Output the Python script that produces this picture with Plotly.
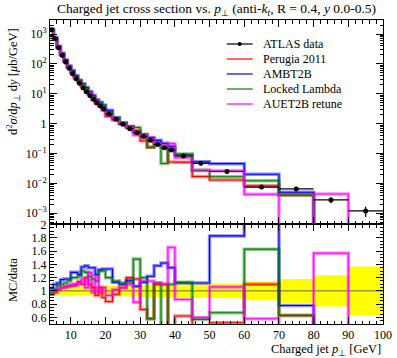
import plotly.graph_objects as go

# ---------------- data ----------------
edges = [4, 5, 6, 7, 8, 9, 10, 11, 12, 13, 14, 15, 16, 17, 18, 19, 20,
         22, 24, 26, 28, 30, 32, 34, 36, 38, 40, 45, 50, 60, 70, 80, 90, 100]

atlas_data = [1400, 700, 350, 195, 115, 72, 47, 32, 22.5, 16, 11.8, 8.8, 6.6,
              5.0, 3.9, 3.1, 2.1, 1.4, 0.95, 0.68, 0.5, 0.37, 0.28, 0.2, 0.155,
              0.13, 0.083, 0.047, 0.025, 0.0075, 0.0065, 0.0028, 0.0012]

data_relerr = [0.06, 0.06, 0.06, 0.06, 0.06, 0.06, 0.065, 0.065, 0.065, 0.07,
               0.07, 0.07, 0.07, 0.07, 0.075, 0.075, 0.08, 0.08, 0.08, 0.085,
               0.085, 0.09, 0.09, 0.09, 0.095, 0.095, 0.10, 0.10, 0.11, 0.14,
               0.18, 0.235, 0.37]

# MC / data ratios per bin (0 = empty bin)
perugia2011 = [0.95, 0.98, 1.02, 1.05, 1.06, 1.07, 1.08, 1.10, 1.14, 1.10, 1.20,
               1.10, 1.05, 0.93, 1.05, 0.90, 0.84, 0.95, 1.05, 1.20, 1.18, 0.72,
               0.58, 1.10, 1.10, 0.40, 0.62, 0.36, 0.52, 1.10, 0.63, 0, 0]
ambt2b = [1.04, 1.10, 1.12, 1.17, 1.18, 1.18, 1.28, 1.28, 1.25, 1.36, 1.38,
          1.35, 1.35, 1.25, 1.32, 1.33, 1.33, 1.13, 1.10, 1.16, 1.07, 1.13,
          1.22, 1.38, 1.42, 1.35, 1.12, 1.12, 1.83, 2.7, 0.78, 0, 0]
locked_lambda = [0.97, 1.02, 1.08, 1.10, 1.12, 1.15, 1.20, 1.20, 1.22, 1.30,
                 1.28, 1.22, 1.18, 1.15, 1.30, 1.30, 1.20, 1.15, 1.12, 1.13,
                 1.48, 1.20, 0.58, 1.12, 0.30, 1.10, 1.13, 0.57, 0.67, 1.63,
                 0.63, 0, 0]
auet2b = [0.95, 1.00, 1.03, 1.05, 1.06, 1.08, 1.10, 1.08, 1.12, 1.18, 1.05,
          1.28, 0.98, 1.22, 0.98, 1.05, 0.93, 1.02, 1.05, 1.10, 0.83, 1.15,
          1.15, 1.12, 1.10, 1.66, 0.87, 0.60, 1.06, 0.58, 0, 1.57, 0]

ratio_ticks = [0.6, 0.8, 1, 1.2, 1.4, 1.6, 1.8, 2]
ratio_ticktext = ["0.6", "0.8", "1", "1.2", "1.4", "1.6", "1.8", "2"]

series = [
    ("Perugia 2011", perugia2011, "#ff0000", "rgba(255,0,0,0.45)"),
    ("AMBT2B", ambt2b, "#0000ff", "rgba(0,0,255,0.45)"),
    ("Locked Lambda", locked_lambda, "#008000", "rgba(0,128,0,0.45)"),
    ("AUET2B retune", auet2b, "#ff00ff", "rgba(255,0,255,0.45)"),
]

FONT = "Liberation Serif"

centers = [(a + b) / 2 for a, b in zip(edges[:-1], edges[1:])]
halfw = [(b - a) / 2 for a, b in zip(edges[:-1], edges[1:])]


def step_y(vals):
    return list(vals) + [vals[-1]]


fig = go.Figure()

# ---------- ratio panel ----------
band_x, band_y = [], []
for i in range(len(centers)):
    band_x += [edges[i], edges[i + 1]]
    band_y += [1 + data_relerr[i]] * 2
for i in reversed(range(len(centers))):
    band_x += [edges[i + 1], edges[i]]
    band_y += [1 - data_relerr[i]] * 2
fig.add_trace(go.Scatter(x=band_x, y=band_y, fill="toself", fillcolor="#ffff00",
                         line=dict(width=0), mode="lines", showlegend=False,
                         hoverinfo="skip", xaxis="x", yaxis="y"))
fig.add_trace(go.Scatter(x=[edges[0], edges[-1]], y=[1, 1], mode="lines",
                         line=dict(color="#666666", width=1), showlegend=False,
                         xaxis="x", yaxis="y"))

for name, ratio, col, pale in series:
    fig.add_trace(go.Scatter(x=edges, y=step_y(ratio), mode="lines",
                             line=dict(color=pale, width=3.5, shape="hv"),
                             showlegend=False, xaxis="x", yaxis="y"))
for name, ratio, col, pale in series:
    fig.add_trace(go.Scatter(x=edges, y=step_y(ratio), mode="lines",
                             line=dict(color=col, width=1.1, shape="hv"),
                             showlegend=False, xaxis="x", yaxis="y"))

# ---------- main panel ----------
for name, ratio, col, pale in series:
    mc = [d * r if r > 0 else 1e-9 for d, r in zip(atlas_data, ratio)]
    fig.add_trace(go.Scatter(x=edges, y=step_y(mc), mode="lines",
                             line=dict(color=pale, width=3.5, shape="hv"),
                             showlegend=False, xaxis="x2", yaxis="y2"))
for name, ratio, col, pale in series:
    mc = [d * r if r > 0 else 1e-9 for d, r in zip(atlas_data, ratio)]
    fig.add_trace(go.Scatter(x=edges, y=step_y(mc), mode="lines",
                             line=dict(color=col, width=1.1, shape="hv"),
                             showlegend=False, xaxis="x2", yaxis="y2"))

fig.add_trace(go.Scatter(
    x=centers, y=atlas_data, mode="markers",
    marker=dict(color="black", size=5, symbol="circle"),
    error_x=dict(type="data", array=halfw, width=0, thickness=1.2, color="black"),
    error_y=dict(type="data", array=[d * e for d, e in zip(atlas_data, data_relerr)],
                 width=0, thickness=1.2, color="black"),
    showlegend=False, xaxis="x2", yaxis="y2"))

# ---------- layout ----------
OFF = 0   # body margin removed by post_script below
WIN_W, WIN_H = 397, 358
W, H = WIN_W - OFF, WIN_H - OFF
FR_L, FR_R, FR_T, FR_B = 50, 383.5, 20, 324   # frame in window pixels
L = FR_L - OFF
T = FR_T - OFF
R = W - (FR_R - OFF)
B = H - (FR_B - OFF)
PW, PH = W - L - R, H - T - B
split = 100 / PH


def px(xw):
    return (xw - OFF - L) / PW


def py(yw):
    return (H - B - (yw - OFF)) / PH


minor_log = [k * 10 ** e for e in range(-4, 4) for k in range(2, 10)
             if 10 ** -3.36 < k * 10 ** e < 10 ** 3.47]

axis_common = dict(showline=True, linecolor="black", linewidth=1, mirror="allticks",
                   ticks="inside", tickcolor="black", ticklen=7, showgrid=False,
                   zeroline=False, tickfont=dict(family=FONT, size=12, color="black"))

fig.update_layout(
    width=W, height=H, margin=dict(l=L, r=R, t=T, b=B, autoexpand=False),
    paper_bgcolor="white", plot_bgcolor="white", showlegend=False,
    xaxis=dict(range=[4, 100], domain=[0, 1], anchor="y",
               tickvals=[10, 20, 30, 40, 50, 60, 70, 80, 90, 100],
               minor=dict(dtick=2, tick0=0, ticks="inside", ticklen=3.5,
                          tickcolor="black"),
               **axis_common),
    yaxis=dict(range=[0.5, 2.01], domain=[0, split], anchor="x",
               tickvals=ratio_ticks, ticktext=ratio_ticktext,
               minor=dict(dtick=0.05, tick0=0.5, ticks="inside", ticklen=3.5,
                          tickcolor="black"),
               **axis_common),
    xaxis2=dict(range=[4, 100], domain=[0, 1], anchor="y2", matches="x",
                showticklabels=False,
                tickvals=[10, 20, 30, 40, 50, 60, 70, 80, 90, 100],
                minor=dict(dtick=2, tick0=0, ticks="inside", ticklen=3.5,
                           tickcolor="black"),
                **axis_common),
    yaxis2=dict(type="log", range=[-3.36, 3.47], domain=[split, 1], anchor="x2",
                tickvals=[1e-3, 1e-2, 1e-1, 1, 10, 100, 1000],
                ticktext=["10<sup>−3</sup>", "10<sup>−2</sup>", "10<sup>−1</sup>", "1",
                          "10<sup>1</sup>", "10<sup>2</sup>", "10<sup>3</sup>"],
                minor=dict(tickvals=minor_log, ticks="inside", ticklen=3.5,
                           tickcolor="black"),
                **axis_common),
)

annotations = [
    dict(text="Charged jet cross section vs. <i>p</i><sub>⊥</sub> (anti-<i>k</i><sub><i>t</i></sub>, R = 0.4, <i>y</i> 0.0-0.5)",
         x=px(216.5), y=py(10), xref="paper", yref="paper", showarrow=False,
         xanchor="center", yanchor="middle", font=dict(family=FONT, size=13.5, color="black")),
    dict(text="d<sup>2</sup><i>σ</i>/d<i>p</i><sub>⊥</sub> d<i>y</i> [<i>μ</i>b/GeV]",
         x=px(13), y=py(82), xref="paper", yref="paper", showarrow=False, textangle=-90,
         xanchor="center", yanchor="middle", font=dict(family=FONT, size=12.5, color="black")),
    dict(text="MC/data", x=px(13), y=py(280), xref="paper", yref="paper", showarrow=False,
         textangle=-90, xanchor="center", yanchor="middle",
         font=dict(family=FONT, size=12.5, color="black")),
    dict(text="Charged jet <i>p</i><sub>⊥</sub> [GeV]", x=px(383), y=py(350),
         xref="paper", yref="paper", showarrow=False, xanchor="right", yanchor="middle",
         font=dict(family=FONT, size=12.5, color="black")),
]

legend_items = [("ATLAS data", "black")] + [(s[0], s[2]) for s in series]
shapes = []
for k, (name, col) in enumerate(legend_items):
    yy = 44 + 15 * k
    shapes.append(dict(type="line", xref="paper", yref="paper",
                       x0=px(227), x1=px(253), y0=py(yy), y1=py(yy),
                       line=dict(color=col, width=1.2)))
    annotations.append(dict(text=name, x=px(261), y=py(yy), xref="paper", yref="paper",
                            showarrow=False, xanchor="left", yanchor="middle",
                            font=dict(family=FONT, size=12, color="black")))
shapes.append(dict(type="circle", xref="paper", yref="paper",
                   x0=px(238), x1=px(242), y0=py(46), y1=py(42),
                   fillcolor="black", line=dict(color="black", width=0)))

fig.update_layout(annotations=annotations, shapes=shapes)

fig.write_html("out.html",
               config={"displayModeBar": False},
               post_script="document.body.style.margin='0px';"
                           "document.body.style.overflow='hidden';")
